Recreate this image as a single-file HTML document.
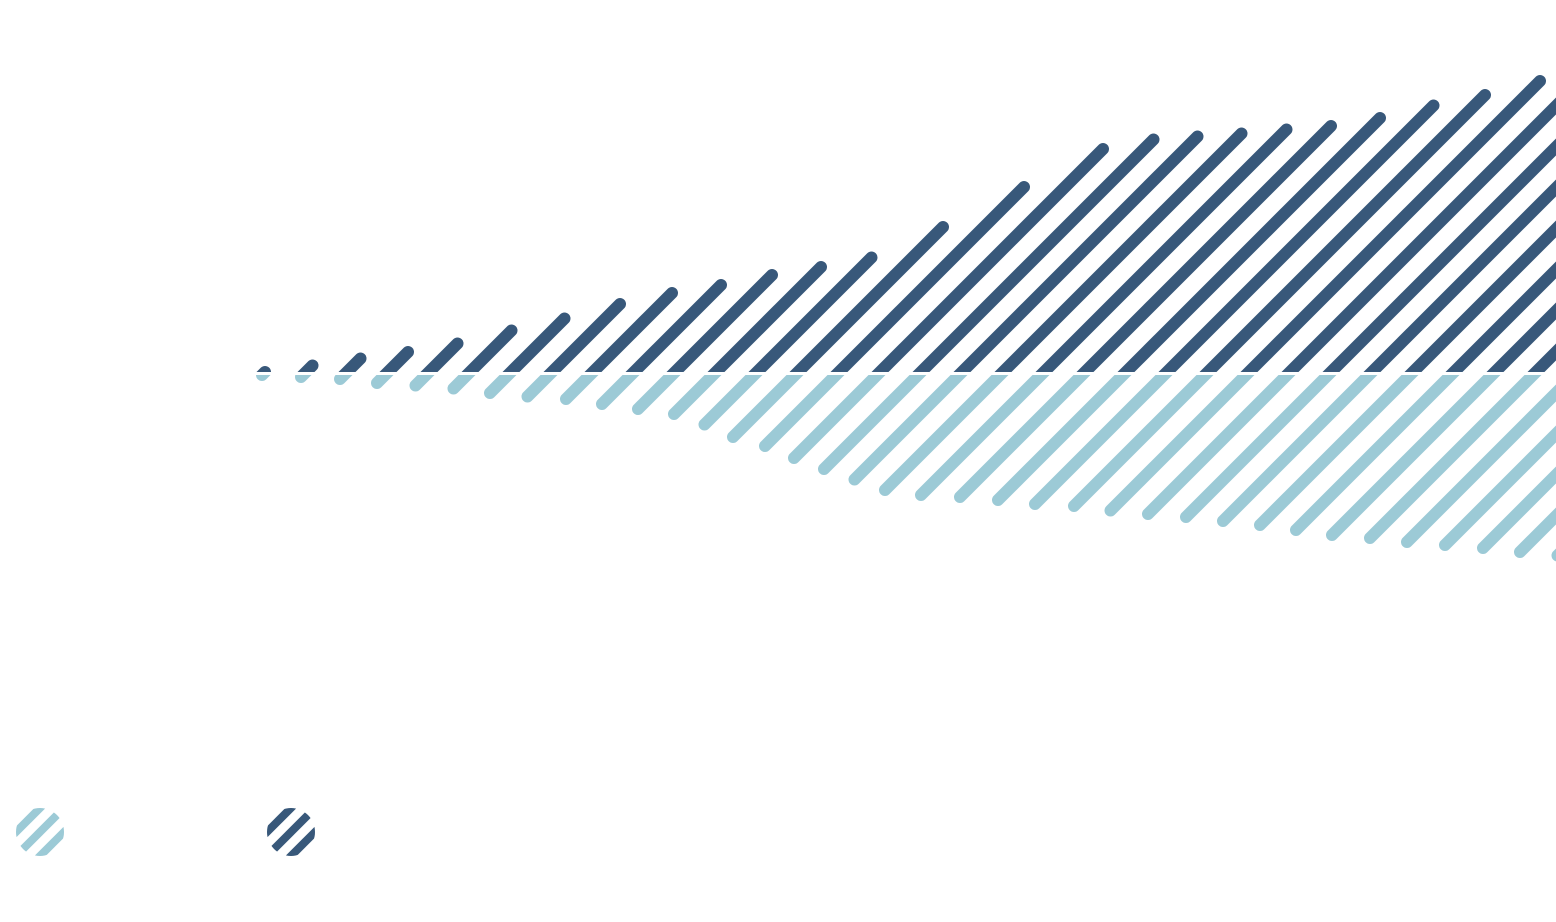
<!DOCTYPE html>
<html><head><meta charset="utf-8"><style>
html,body{margin:0;padding:0;background:#fff;}
svg{display:block;font-family:"Liberation Sans",sans-serif;}
</style></head><body>
<svg id="chart" width="1556" height="922" viewBox="0 0 1556 922">
<defs>
<clipPath id="clipTop"><rect x="0" y="0" width="1556" height="372"/></clipPath>
<clipPath id="clipBot"><rect x="0" y="375" width="1556" height="600"/></clipPath>
<clipPath id="lg1"><circle cx="40" cy="832" r="24"/></clipPath>
<clipPath id="lg2"><circle cx="291" cy="832" r="24"/></clipPath>
</defs>
<g id="dark" clip-path="url(#clipTop)"></g>
<g id="light" clip-path="url(#clipBot)"></g>
<g>
<g clip-path="url(#lg1)" stroke="#9ccad6" stroke-width="8">
<line x1="0" y1="848" x2="50" y2="798"/><line x1="12" y1="860" x2="62" y2="810"/><line x1="24" y1="872" x2="74" y2="822"/><line x1="-12" y1="836" x2="38" y2="786"/>
</g>
<g clip-path="url(#lg2)" stroke="#38587a" stroke-width="8">
<line x1="251" y1="848" x2="301" y2="798"/><line x1="263" y1="860" x2="313" y2="810"/><line x1="275" y1="872" x2="325" y2="822"/><line x1="239" y1="836" x2="289" y2="786"/>
</g>
</g>
</svg>
<script>
// data: x positions (pixel-space categories) and envelope magnitudes above/below baseline
const topX = [215,265,311,357,404,452,505,560,612,667,716,768,816,868,935,1018,1098,1150,1193,1238,1281,1326,1377,1428,1482,1533,1700];
const topVal = [0,1,7,14,20,28,41,53,67,79,87,97,105,114,142,183,223,233,236,239,243,246,254,266,277,290,330];
const botX = [215,268,309,343,378,415,452,491,526,566,602,639,674,706,734,766,794,825,856,887,922,962,998,1036,1074,1110,1150,1186,1224,1260,1298,1334,1370,1410,1446,1485,1521,1700];
const botVal = [0,2,4,6,10,12,15,20,23,26,31,36,41,52,64,73,85,96,107,117,122,124,127,131,133,137,141,144,148,152,157,162,165,169,172,175,179,195];
const BASE = 373, STEP = 41, START = 223;
function interp(xs, vs, x){
  if (x <= xs[0]) return vs[0];
  for (let i=1;i<xs.length;i++) if (x<=xs[i]){const t=(x-xs[i-1])/(xs[i]-xs[i-1]);return vs[i-1]+t*(vs[i]-vs[i-1]);}
  return vs[vs.length-1];
}
const NS="http://www.w3.org/2000/svg";
function mk(g,x1,y1,x2,y2,c){
  const l=document.createElementNS(NS,"line");
  l.setAttribute("x1",x1);l.setAttribute("y1",y1);l.setAttribute("x2",x2);l.setAttribute("y2",y2);
  l.setAttribute("stroke",c);l.setAttribute("stroke-width","12");l.setAttribute("stroke-linecap","round");
  
  
  g.appendChild(l);
}
const dg=document.getElementById("dark"), lg=document.getElementById("light");
for (let b=START;b<1960;b+=STEP){
  // upper: go up-right from baseline until meeting envelope
  let x=b;
  while (x<1800 && (x-b) < interp(topX,topVal,x)) x+=0.5;
  if (x-b>0.5) mk(dg,b-8,BASE+8,x,BASE-(x-b),"#38587a");
  // lower: go down-left from baseline until meeting envelope
  let x2=b;
  while (x2>200 && (b-x2) < interp(botX,botVal,x2)) x2-=0.5;
  if (b-x2>0.5) mk(lg,b+8,BASE-8,x2,BASE+(b-x2),"#9ccad6");
}
</script>
</body></html>
